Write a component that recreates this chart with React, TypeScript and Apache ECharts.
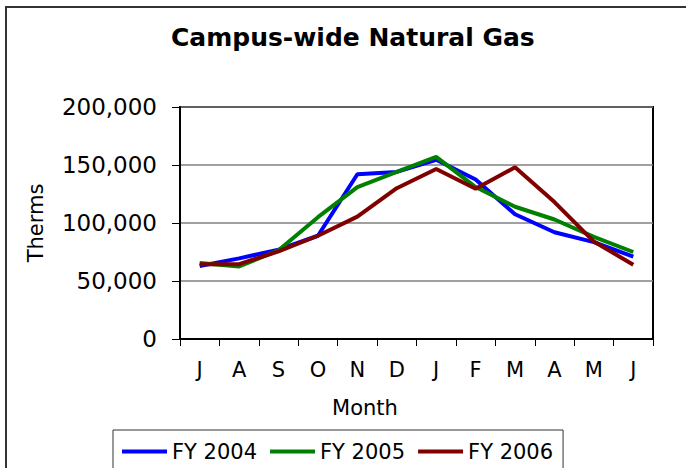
import React, { useEffect, useRef } from "react";
import * as echarts from "echarts";

const months = ["J", "A", "S", "O", "N", "D", "J", "F", "M", "A", "M", "J"];
const fy2004 = [63000, 69500, 77000, 89000, 142000, 144000, 154500, 137500, 107500, 92000, 83500, 71000];
const fy2005 = [65500, 62500, 76500, 105000, 131000, 144000, 157000, 131000, 114000, 103000, 88000, 75000];
const fy2006 = [64500, 64500, 75500, 89000, 105500, 130000, 146500, 129500, 148000, 118000, 84000, 64000];
const seriesNames = ["FY 2004", "FY 2005", "FY 2006"];
const colors = ["#0000FF", "#008000", "#800000"];

const FONT = "DejaVu Sans";

export default function App() {
  const ref = useRef<HTMLDivElement>(null);
  useEffect(() => {
    if (!ref.current) return;
    const chart = echarts.init(ref.current, undefined, { renderer: "svg" });
    const dataSets = [fy2004, fy2005, fy2006];
    chart.setOption({
      animation: false,
      backgroundColor: "#fff",
      color: colors,
      textStyle: { fontFamily: FONT, color: "#000" },
      title: {
        text: "Campus-wide Natural Gas",
        left: 171,
        top: 25,
        padding: 0,
        textStyle: { fontFamily: FONT, fontSize: 25, fontWeight: "bold", color: "#000" },
      },
      grid: {
        left: 180,
        right: 33,
        top: 107,
        bottom: 129,
        show: true,
        borderColor: "#000",
        borderWidth: 2,
        backgroundColor: "#fff",
      },
      legend: {
        left: 113,
        top: 430,
        orient: "horizontal",
        padding: [11, 10, 12, 9],
        itemGap: 13,
        itemWidth: 45,
        itemHeight: 4,
        icon: "rect",
        borderColor: "#333",
        borderWidth: 1,
        textStyle: { fontFamily: FONT, fontSize: 21, color: "#000" },
        data: seriesNames,
      },
      xAxis: {
        type: "category",
        data: months,
        boundaryGap: true,
        axisLine: { lineStyle: { color: "#000", width: 2 } },
        axisTick: { show: true, length: 7, lineStyle: { color: "#000", width: 1 } },
        axisLabel: { fontFamily: FONT, fontSize: 21, color: "#000", margin: 20, interval: 0 },
        splitLine: { show: false },
      },
      yAxis: {
        type: "value",
        min: 0,
        max: 200000,
        interval: 50000,
        name: "Therms",
        nameLocation: "middle",
        nameGap: 134,
        nameRotate: 90,
        nameTextStyle: { fontFamily: FONT, fontSize: 21, color: "#000" },
        axisLine: { show: true, lineStyle: { color: "#000", width: 2 } },
        axisTick: { show: true, length: 8, lineStyle: { color: "#000", width: 1 } },
        axisLabel: {
          fontFamily: FONT,
          fontSize: 23,
          color: "#000",
          margin: 23,
          formatter: (v: number) => v.toLocaleString("en-US"),
        },
        splitLine: { show: true, lineStyle: { color: "#808080", width: 1.5 } },
      },
      graphic: [
        {
          type: "rect",
          shape: { x: 6, y: 7, width: 760, height: 560 },
          style: { fill: "none", stroke: "#333", lineWidth: 2 },
          z: 100,
          silent: true,
        },
        {
          type: "text",
          x: 365,
          y: 408,
          style: {
            text: "Month",
            fontFamily: FONT,
            fontSize: 21,
            fill: "#000",
            textAlign: "center",
            textVerticalAlign: "middle",
          },
        },
      ],
      series: dataSets.map((d, i) => ({
        name: seriesNames[i],
        type: "line",
        data: d,
        symbol: "none",
        lineStyle: { color: colors[i], width: 4 },
        itemStyle: { color: colors[i] },
        z: 2 + i,
      })),
    });
    return () => chart.dispose();
  }, []);
  return (
    <div
      ref={ref}
      style={{ position: "fixed", left: 0, top: 0, width: 686, height: 468 }}
    />
  );
}
